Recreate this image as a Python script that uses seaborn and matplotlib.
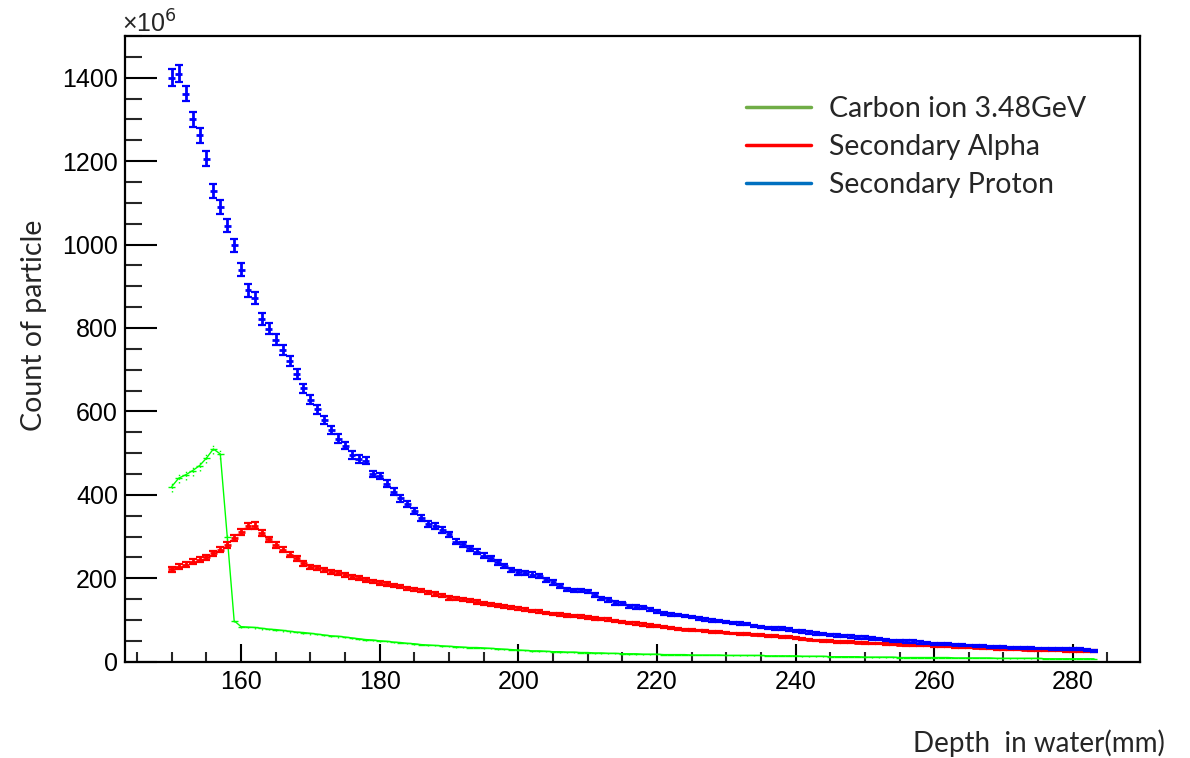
import numpy as np
import pandas as pd
import seaborn as sns
import matplotlib
matplotlib.use("Agg")
import matplotlib.pyplot as plt
from matplotlib.lines import Line2D
from matplotlib.ticker import MultipleLocator

# bin centres (1 mm bins), depth in water (mm)
depth = np.arange(150, 284)

# counts in units of 1e6
proton = [1400, 1410, 1362, 1300, 1262, 1206, 1128, 1090, 1045, 998,
          940, 890, 872, 822, 798, 772, 748, 720, 690, 655,
          628, 605, 580, 555, 535, 518, 496, 486, 482, 450,
          445, 427, 408, 392, 378, 362, 345, 330, 326, 315,
          305, 288, 281, 272, 264, 254, 248, 238, 230, 220,
          214, 212, 209, 205, 196, 190, 182, 173, 171, 170,
          168, 160, 152, 148, 141, 140, 133, 131, 130, 125,
          120, 116, 113, 112, 109, 107, 103, 101, 99, 97,
          95, 93, 91, 90, 86, 83, 81, 80, 80, 77,
          74, 72, 70, 68, 66, 64, 63, 62, 60, 58,
          58, 56, 54, 52, 50, 50, 48, 48, 46, 45,
          43, 42, 42, 41, 40, 39, 38, 37, 36, 36,
          35, 34, 34, 33, 33, 32, 32, 31, 31, 30,
          30, 30, 28, 26]
proton_err = [20, 20, 19, 19, 18, 18, 17, 17, 16, 16,
              15, 15, 14, 14, 13, 13, 12, 12, 12, 11,
              11, 11, 10, 10, 10, 9, 9, 9, 9, 8,
              8, 8, 8, 8, 7, 7, 7, 7, 7, 7,
              6, 6, 6, 6, 6, 6, 6, 5, 5, 5,
              5, 5, 5, 5, 5, 5, 5, 4, 4, 4,
              4, 4, 4, 4, 4, 4, 4, 4, 4, 4,
              3, 3, 3, 3, 3, 3, 3, 3, 3, 3,
              3, 3, 3, 3, 3, 3, 3, 3, 3, 3,
              3, 3, 3, 3, 3, 3, 3, 3, 3, 3,
              3, 3, 3, 3, 3, 3, 3, 3, 3, 3,
              2, 2, 2, 2, 2, 2, 2, 2, 2, 2,
              2, 2, 2, 2, 2, 2, 2, 2, 2, 2,
              2, 2, 2, 2]

alpha = [222, 228, 232, 240, 244, 250, 260, 268, 280, 296,
         311, 325, 326, 308, 293, 280, 268, 256, 248, 236,
         228, 225, 220, 216, 212, 208, 204, 200, 196, 192,
         189, 186, 183, 180, 176, 173, 170, 166, 162, 158,
         153, 151, 149, 146, 143, 140, 137, 135, 132, 130,
         127, 125, 122, 120, 117, 114, 113, 111, 109, 108,
         106, 104, 102, 101, 98, 95, 93, 91, 89, 87,
         85, 83, 81, 79, 77, 76, 75, 73, 72, 71,
         70, 68, 67, 66, 65, 64, 62, 61, 60, 59,
         57, 55, 53, 51, 50, 49, 48, 48, 47, 46,
         45, 44, 44, 43, 42, 41, 40, 40, 39, 39,
         38, 38, 37, 36, 35, 35, 34, 33, 32, 31,
         31, 30, 30, 29, 28, 28, 28, 27, 27, 26,
         26, 26, 25, 25]
alpha_err = [6, 6, 6, 6, 6, 6, 6, 6, 7, 7,
             7, 8, 8, 7, 7, 7, 6, 6, 6, 6,
             5, 5, 5, 5, 5, 5, 5, 5, 4, 4,
             4, 4, 4, 4, 4, 4, 4, 4, 4, 4,
             4, 4, 4, 4, 4, 3, 3, 3, 3, 3,
             3, 3, 3, 3, 3, 3, 3, 3, 3, 3,
             3, 3, 3, 3, 3, 3, 3, 3, 3, 3,
             2, 2, 2, 2, 2, 2, 2, 2, 2, 2,
             2, 2, 2, 2, 2, 2, 2, 2, 2, 2,
             2, 2, 2, 2, 2, 2, 2, 2, 2, 2,
             2, 2, 2, 2, 2, 2, 2, 2, 2, 2,
             2, 2, 2, 2, 2, 2, 2, 2, 2, 2,
             2, 2, 2, 2, 2, 2, 2, 2, 2, 2,
             2, 2, 2, 2]

carbon = [420, 440, 448, 458, 470, 488, 510, 498, 300, 98,
          84, 83, 82, 80, 78, 77, 75, 73, 71, 70,
          68, 66, 64, 62, 61, 59, 57, 55, 53, 52,
          50, 49, 47, 46, 44, 43, 41, 40, 39, 38,
          37, 36, 35, 34, 34, 33, 32, 31, 30, 29,
          28, 27, 26, 26, 25, 24, 24, 23, 23, 22,
          22, 21, 21, 20, 20, 19, 19, 19, 18, 18,
          18, 17, 17, 17, 17, 16, 16, 16, 16, 16,
          15, 15, 15, 15, 15, 15, 14, 14, 14, 14,
          14, 13, 13, 13, 13, 12, 12, 12, 12, 12,
          11, 11, 11, 11, 11, 10, 10, 10, 10, 10,
          10, 10, 10, 9, 9, 9, 9, 9, 9, 8,
          8, 8, 8, 8, 8, 8, 7, 7, 7, 7,
          7, 7, 7, 7]
carbon_err = [12, 12, 12, 12, 12, 12, 12, 12, 8, 4,
              3, 3, 3, 3, 3, 3, 3, 3, 3, 3,
              3, 3, 3, 3, 3, 3, 3, 3, 3, 3,
              2, 2, 2, 2, 2, 2, 2, 2, 2, 2,
              2, 2, 2, 2, 2, 2, 2, 2, 2, 2,
              2, 2, 2, 2, 2, 2, 2, 2, 2, 2,
              2, 2, 2, 2, 2, 2, 2, 2, 2, 2,
              1, 1, 1, 1, 1, 1, 1, 1, 1, 1,
              1, 1, 1, 1, 1, 1, 1, 1, 1, 1,
              1, 1, 1, 1, 1, 1, 1, 1, 1, 1,
              1, 1, 1, 1, 1, 1, 1, 1, 1, 1,
              1, 1, 1, 1, 1, 1, 1, 1, 1, 1,
              1, 1, 1, 1, 1, 1, 1, 1, 1, 1,
              1, 1, 1, 1]

legend_labels = ["Carbon ion 3.48GeV", "Secondary Alpha", "Secondary Proton"]
legend_colors = ["#70AD47", "#FF0000", "#0070C0"]
x_label = "Depth  in water(mm)"
y_label = "Count of particle"

sns.set_theme(style="white")
plt.rcParams["font.family"] = ["Liberation Sans", "DejaVu Sans"]

fig = plt.figure(figsize=(11.9, 7.58), dpi=100)
ax = fig.add_axes([125 / 1190, 1 - 661.7 / 758, (1140 - 125) / 1190, (661.7 - 36) / 758])

df = pd.DataFrame({"depth": depth, "carbon": carbon})
sns.lineplot(data=df, x="depth", y="carbon", ax=ax, color="#00FF00",
             lw=1.0, estimator=None, legend=False)
eb = ax.errorbar(depth, carbon, yerr=carbon_err, fmt="none",
                 ecolor="#00FF00", elinewidth=1.0)
for lc in eb[2]:
    lc.set_linestyle(":")
ax.errorbar(depth, carbon, xerr=0.5, fmt="none", ecolor="#00FF00", elinewidth=1.0)

for vals, errs, col in [(alpha, alpha_err, "#FF0000"), (proton, proton_err, "#0000FF")]:
    # horizontal bin-width bars (no caps)
    ax.errorbar(depth, vals, xerr=0.5, fmt="none", ecolor=col, elinewidth=2.0)
    # vertical error bars with caps
    ax.errorbar(depth, vals, yerr=errs, fmt="none", ecolor=col,
                elinewidth=2.0, capsize=3.2, capthick=1.6)

ax.set_xlim(143.25, 289.7)
ax.set_ylim(0, 1500)
ax.set_xlabel("")
ax.set_ylabel("")
ax.xaxis.set_major_locator(MultipleLocator(20))
ax.xaxis.set_minor_locator(MultipleLocator(5))
ax.yaxis.set_major_locator(MultipleLocator(200))
ax.yaxis.set_minor_locator(MultipleLocator(50))
ax.tick_params(axis="x", which="major", direction="in", length=13, width=1.5,
               pad=6, labelsize=18, bottom=True, top=False, colors="black")
ax.tick_params(axis="x", which="minor", direction="in", length=7.5, width=1.5,
               bottom=True, top=False)
ax.tick_params(axis="y", which="major", direction="in", length=23, width=1.5,
               pad=5, labelsize=18, left=True, right=False, colors="black")
ax.tick_params(axis="y", which="minor", direction="in", length=12, width=1.5,
               left=True, right=False)
for s in ax.spines.values():
    s.set_color("black")
    s.set_linewidth(1.6)
    s.set_visible(True)

fig.text(122 / 1190, 1 - 33 / 758, "\u00d710$^{6}$", fontsize=18,
         ha="left", va="baseline")

fig.text(34 / 1190, 1 - 325 / 758, y_label, rotation=90, ha="center",
         va="center", fontsize=20.5, family=["Lato", "DejaVu Sans"])
fig.text(1039 / 1190, 1 - 743 / 758, x_label, ha="center", va="center",
         fontsize=20, family=["Lato", "DejaVu Sans"])

handles = [Line2D([0], [0], color=c, lw=2.5) for c in legend_colors]
ax.legend(handles, legend_labels, loc="upper left",
          bbox_to_anchor=(746 / 1190, 1 - 96 / 758), bbox_transform=fig.transFigure,
          frameon=False, borderpad=0, borderaxespad=0, handlelength=2.3,
          handletextpad=0.62, labelspacing=0.42,
          prop={"family": ["Lato", "DejaVu Sans"], "size": 20.5})

fig.savefig("out.png", dpi=100)
